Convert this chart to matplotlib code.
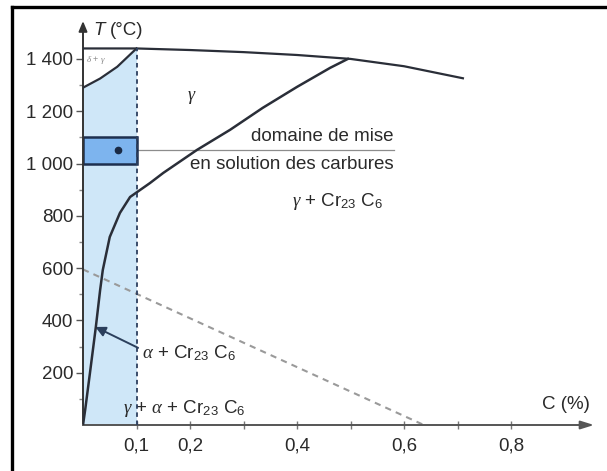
import numpy as np
import matplotlib
matplotlib.use("Agg")
import matplotlib.pyplot as plt
from matplotlib.lines import Line2D
from matplotlib.patches import Rectangle

plt.rcParams['font.family'] = ['Liberation Sans', 'DejaVu Sans']
plt.rcParams['mathtext.fontset'] = 'custom'
plt.rcParams['mathtext.rm'] = 'Liberation Sans'
plt.rcParams['mathtext.it'] = 'Liberation Serif:italic'
plt.rcParams['mathtext.bf'] = 'Liberation Sans:bold'

# courbes (C en %, T en °C)
liq_C = [0, 0.1, 0.2, 0.3, 0.4, 0.5, 0.6, 0.71]
liq_T = [1440, 1440, 1434, 1426, 1415, 1400, 1372, 1326]

delta_C = [0, 0.032, 0.064, 0.1]
delta_T = [1290, 1325, 1370, 1440]

solv_C = [0, 0.004, 0.013, 0.024, 0.032, 0.037, 0.05, 0.069, 0.088, 0.125,
          0.150, 0.213, 0.275, 0.336, 0.40, 0.462, 0.495]
solv_T = [0, 57, 199, 375, 516, 593, 719, 811, 872, 925,
          964, 1052, 1129, 1213, 1293, 1366, 1400]

# limite alpha (pointillés gris)
alpha_C = [0, 0.637]
alpha_T = [595, 0]

# teneur limite et domaine de mise en solution
C_lim = 0.1
sol_T = [1000, 1100]
point = (0.065, 1052)

y_ticks = [200, 400, 600, 800, 1000, 1200, 1400]
y_labels = ['200', '400', '600', '800', '1 000', '1 200', '1 400']
y_minor = [100, 300, 500, 700, 900, 1100, 1300]
x_ticks = [0.1, 0.2, 0.4, 0.6, 0.8]
x_labels = ['0,1', '0,2', '0,4', '0,6', '0,8']
x_minor = [0.3, 0.5, 0.7]

ink = '#2a2e38'
txt = '#2a2a2a'

fig = plt.figure(figsize=(6.07, 4.71), dpi=100)
ax = fig.add_axes([83/607, 46/471, 511/607, 404/471])
ax.set_xlim(0, 0.955)
ax.set_ylim(0, 1545)
for s in ax.spines.values():
    s.set_visible(False)

# zones colorées
ax.fill_between(delta_C, 0, delta_T, color='#cfe7f8', lw=0, zorder=1)
ax.add_patch(Rectangle((0, sol_T[0]), C_lim, sol_T[1] - sol_T[0],
                       facecolor='#7db4ee', edgecolor='#1d2f4f', lw=1.8, zorder=3))

# courbes
ax.plot(liq_C, liq_T, color=ink, lw=1.6, zorder=4)
ax.plot(delta_C, delta_T, color=ink, lw=1.6, zorder=4)
ax.plot(solv_C, solv_T, color=ink, lw=1.8, zorder=4)
ax.plot(alpha_C, alpha_T, color='#9a9a9a', lw=1.5, dashes=(3, 2.5), zorder=2)
ax.plot([C_lim, C_lim], [0, liq_T[1]], color='#2d3f5f', lw=1.3,
        dashes=(2.5, 2), zorder=4)

# point et ligne de rappel
ax.plot([C_lim, 0.581], [point[1], point[1]], color='#8c8c8c', lw=0.9, zorder=2)
ax.plot(*point, 'o', color='#1a2a45', ms=4.5, zorder=5)

# axes fléchés
ax.annotate('', xy=(0, 1545), xytext=(0, 0), annotation_clip=False,
            arrowprops=dict(arrowstyle='-|>,head_length=0.6,head_width=0.25',
                            color='#333333', lw=1.4, shrinkA=0, shrinkB=0))
ax.annotate('', xy=(0.955, 0), xytext=(0, 0), annotation_clip=False,
            arrowprops=dict(arrowstyle='-|>,head_length=0.8,head_width=0.25',
                            color='#555555', lw=1.4, shrinkA=0, shrinkB=0))

ax.set_yticks(y_ticks, labels=y_labels)
ax.set_yticks(y_minor, minor=True)
ax.set_xticks(x_ticks, labels=x_labels)
ax.set_xticks(x_minor, minor=True)
ax.tick_params(axis='y', which='major', direction='out', length=5, width=1,
               color='#555555', pad=2, labelsize=13.5, labelcolor=txt)
ax.tick_params(axis='y', which='minor', direction='out', length=3, width=1,
               color='#888888')
ax.tick_params(axis='x', which='both', direction='inout', length=6, width=1,
               color='#777777', pad=6, labelsize=13.5, labelcolor=txt)

# textes
ax.text(0.019, 1507, 'T', style='italic', fontsize=13.5, color=txt,
        va='center', ha='left')
ax.text(0.05, 1507, '(°C)', fontsize=13.5, color=txt, va='center', ha='left')
ax.text(0.948, 77, 'C (%)', fontsize=13.5, color=txt, va='center', ha='right')
ax.text(0.006, 1397, r'$\delta$ + $\gamma$', fontsize=6.5, color='#8a8a8a',
        va='center', ha='left')
ax.text(0.204, 1251, r'$\gamma$', fontsize=13, color=txt, ha='center', va='center')
ax.text(0.581, 1102, 'domaine de mise', fontsize=13.5, color=txt,
        ha='right', va='center')
ax.text(0.581, 998, 'en solution des carbures', fontsize=13.5, color=txt,
        ha='right', va='center')
ax.text(0.391, 838, r'$\gamma$ + Cr$_{23}$ C$_6$', fontsize=13.5, color=txt,
        ha='left', va='baseline')
ax.text(0.11, 256, r'$\alpha$ + Cr$_{23}$ C$_6$', fontsize=13.5, color=txt,
        ha='left', va='baseline')
ax.text(0.075, 46, r'$\gamma$ + $\alpha$ + Cr$_{23}$ C$_6$', fontsize=13.5,
        color=txt, ha='left', va='baseline')
ax.annotate('', xy=(0.023, 375), xytext=(0.103, 295),
            arrowprops=dict(arrowstyle='-|>,head_length=0.6,head_width=0.3',
                            color='#2b3f5c', lw=1.4, shrinkA=0, shrinkB=0))

# cadre noir (haut et gauche)
fig.add_artist(Line2D([11.5/607, 1], [1 - 7/471, 1 - 7/471], color='black', lw=2.4))
fig.add_artist(Line2D([11.5/607, 11.5/607], [0, 1 - 7/471], color='black', lw=2.4))

fig.savefig('out.png', dpi=100)
